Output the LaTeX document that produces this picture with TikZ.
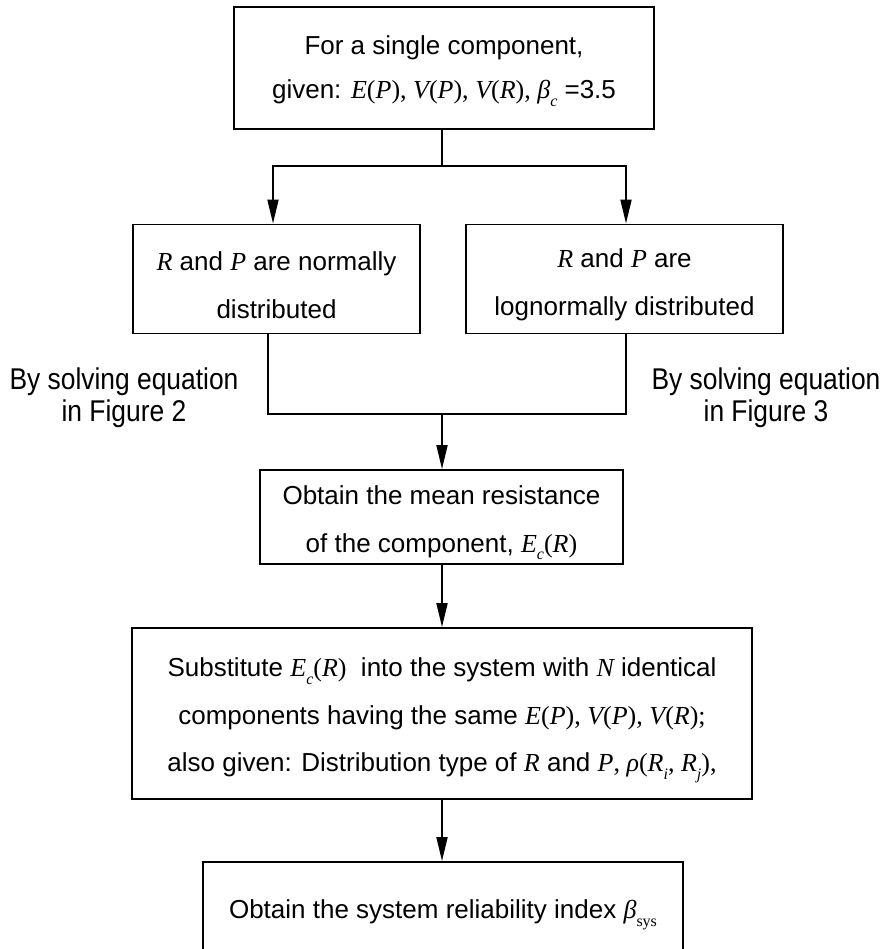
\documentclass[tikz,border=0pt]{standalone}
\usepackage{fontspec}
\setmainfont{Liberation Sans}
\newfontfamily\tms{Liberation Serif}
\usetikzlibrary{arrows.meta}
% italic and upright serif symbols, lowered subscript
\newcommand{\iv}[1]{{\tms\itshape #1}}
\newcommand{\rv}[1]{{\tms #1}}
\newcommand{\sbs}[1]{\raisebox{-0.3em}{\fontsize{16}{16}\selectfont #1}}
\newcommand{\fn}[2]{\iv{#1}\rv{(}\iv{#2}\rv{)}}
\newcommand{\nx}[1]{\scalebox{0.88}[1]{#1}}
\begin{document}
\begin{tikzpicture}[x=1pt,y=-1pt,
  box/.style={draw, line width=1.9pt, inner sep=0pt},
  txt/.style={align=center, inner sep=0pt, font=\fontsize{26}{47.5}\selectfont},
  flow/.style={line width=1.9pt},
  arr/.style={flow, -{Triangle[length=24pt,width=11pt]}},
  side/.style={align=center, inner sep=0pt, font=\fontsize{30}{32}\selectfont}]
\useasboundingbox (0,0) rectangle (884,949);

% boxes
\node[box, minimum width=420pt, minimum height=122pt] (top) at (444,68) {};
\node[box, minimum width=287pt, minimum height=109pt] (left) at (276.5,279) {};
\node[box, minimum width=317pt, minimum height=109pt] (right) at (624.5,279) {};
\node[box, minimum width=363pt, minimum height=94pt] (mean) at (441.5,517) {};
\node[box, minimum width=620pt, minimum height=171pt] (subst) at (442,713.5) {};
\node[box, minimum width=480pt, minimum height=94pt] (sys) at (443,909) {};

% box texts, set a little below the geometric centre
\node[txt, font=\fontsize{26}{44}\selectfont] (topt) at ([yshift=-3pt]top.center)
  {For a single component,\\
   given: \fn{E}{P}\rv{, }\fn{V}{P}\rv{, }\fn{V}{R}\rv{, }\iv{β}\sbs{\iv{c}} =3.5};
\node[txt] (leftt) at ([yshift=-6pt]left.center)
  {\iv{R} and \iv{P} are normally\\ distributed};
\node[txt] (rightt) at ([yshift=-6pt]right.center)
  {\iv{R} and \iv{P} are\\ lognormally distributed};
\node[txt] (meant) at ([yshift=-6pt]mean.center)
  {Obtain the mean resistance\\ of the component, \iv{E}\sbs{\iv{c}}\rv{(}\iv{R}\rv{)}};
\node[txt] (substt) at ([yshift=-7pt]subst.center)
  {Substitute \iv{E}\sbs{\iv{c}}\rv{(}\iv{R}\rv{)}\ \ into the system with \iv{N} identical\\
   components having the same \fn{E}{P}\rv{, }\fn{V}{P}\rv{, }\fn{V}{R}\rv{;}\\
   also given: Distribution type of \iv{R} and \iv{P}\rv{, }\iv{ρ}\rv{(}\iv{R}\sbs{\iv{i}}\rv{, }\iv{R}\sbs{\iv{j}}\rv{),}};
\node[txt] (syst) at ([yshift=-6pt]sys.center)
  {Obtain the system reliability index \iv{β}\sbs{\rv{sys}}};

% side labels
\node[side] (lbl) at (124,398) {\nx{By solving equation}\\ \nx{in Figure 2}};
\node[side] (lbr) at (766,398) {\nx{By solving equation}\\ \nx{in Figure 3}};

% split and merge points
\coordinate (j) at (442,166);
\coordinate (jl) at (273,166);
\coordinate (jr) at (626,166);
\coordinate (m) at (442,414);
\coordinate (ml) at (268,414);
\coordinate (mr) at (626,414);

% connectors
\draw[flow] (top.south -| j) -- (j);
\draw[arr] (j) -| (left.north -| jl);
\draw[arr] (j) -| (right.north -| jr);
\draw[flow] (left.south -| ml) -- (ml) -- (mr) -- (right.south -| mr);
\draw[arr] (m) -- (mean.north -| m);
\draw[arr] (mean.south -| m) -- (subst.north -| m);
\draw[arr] (subst.south -| m) -- (sys.north -| m);
\end{tikzpicture}
\end{document}
